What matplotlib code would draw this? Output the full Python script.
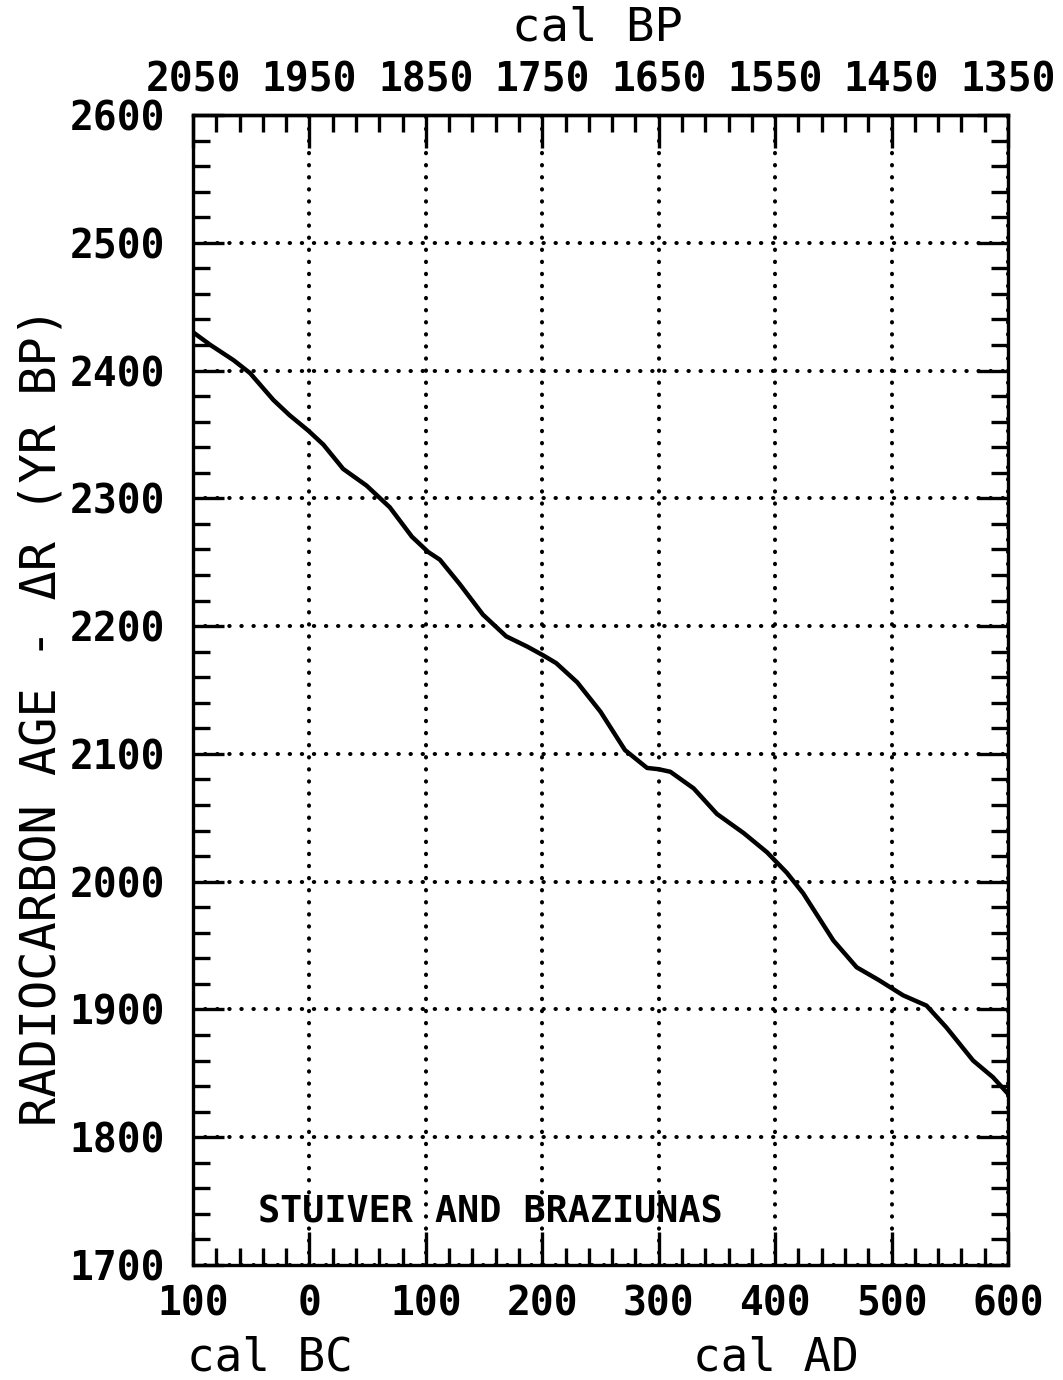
import numpy as np
import matplotlib
matplotlib.use("Agg")
import matplotlib.pyplot as plt
from matplotlib.ticker import MultipleLocator, FixedLocator, FuncFormatter

# calendar year (negative = BC) and radiocarbon age - delta R
cal_year = [-100, -85, -65, -51, -31, -17, -1, 12, 29, 49, 69, 88, 102, 112,
            129, 149, 169, 187, 201, 212, 230, 250, 271, 290, 300, 310, 330,
            350, 373, 393, 410, 424, 450, 470, 489, 510, 530, 547, 570, 587, 600]
c14_age = [2430, 2420, 2408, 2398, 2377, 2365, 2353, 2342, 2323, 2310, 2293,
           2270, 2258, 2252, 2233, 2209, 2192, 2184, 2177, 2171, 2156, 2133,
           2103, 2089, 2088, 2086, 2073, 2053, 2038, 2023, 2007, 1991, 1954,
           1933, 1923, 1911, 1903, 1886, 1860, 1847, 1834]

W, H = 1063, 1380
MONO = "DejaVu Sans Mono"
TICKSIZE = 28.5

fig = plt.figure(figsize=(W / 100, H / 100), dpi=100)
ax = fig.add_axes([193 / W, 1 - 1265 / H, (1008 - 193) / W, (1265 - 115) / H])

ax.plot(cal_year, c14_age, color="black", lw=3.2, solid_joinstyle="round")

ax.set_xlim(-100, 600)
ax.set_ylim(1700, 2600)

for s in ax.spines.values():
    s.set_linewidth(2.4)

ax.xaxis.set_major_locator(MultipleLocator(100))
ax.xaxis.set_minor_locator(MultipleLocator(20))
ax.yaxis.set_major_locator(MultipleLocator(100))
ax.yaxis.set_minor_locator(MultipleLocator(20))
ax.xaxis.set_major_formatter(FuncFormatter(lambda v, p: f"{abs(int(round(v)))}"))

ax.tick_params(which="both", direction="in", top=False, right=True, width=2.4)
ax.tick_params(which="major", length=22)
ax.tick_params(which="minor", length=12)
ax.tick_params(axis="x", which="major", length=24, pad=14)
ax.tick_params(axis="y", which="major", pad=20)

for lab in ax.get_xticklabels() + ax.get_yticklabels():
    lab.set_fontfamily(MONO)
    lab.set_fontweight("bold")
    lab.set_fontsize(TICKSIZE)

ax.grid(True, which="major", color="black", linestyle=(0, (0.1, 2.9)),
        linewidth=2.9, dash_capstyle="round")

# top axis: cal BP
top = ax.secondary_xaxis("top", functions=(lambda x: 1950 - x, lambda x: 1950 - x))
top.xaxis.set_major_locator(FixedLocator(np.arange(1350, 2051, 100)))
top.xaxis.set_minor_locator(FixedLocator(np.arange(1350, 2051, 20)))
top.xaxis.set_major_formatter(FuncFormatter(lambda v, p: f"{int(round(v))}"))
top.spines["top"].set_linewidth(2.4)
top.tick_params(which="both", direction="in", width=2.4)
top.tick_params(which="major", length=24, pad=11)
top.tick_params(which="minor", length=12)
for lab in top.get_xticklabels():
    lab.set_fontfamily(MONO)
    lab.set_fontweight("bold")
    lab.set_fontsize(TICKSIZE)

ax.text(0.08, 0.046, "STUIVER AND BRAZIUNAS", transform=ax.transAxes,
        family=MONO, weight="bold", fontsize=26.5, va="center", ha="left")

fig.text(598 / W, 1 - 28 / H, "cal BP", family=MONO, fontsize=34,
         ha="center", va="center")
fig.text(270 / W, 1 - 1358 / H, "cal BC", family=MONO, fontsize=33,
         ha="center", va="center")
fig.text(776 / W, 1 - 1358 / H, "cal AD", family=MONO, fontsize=33,
         ha="center", va="center")
fig.text(42 / W, 1 - 716 / H, "RADIOCARBON AGE - \u0394R (YR BP)", family=MONO,
         fontsize=35, rotation=90, ha="center", va="center")

fig.savefig("out.png", dpi=100)
